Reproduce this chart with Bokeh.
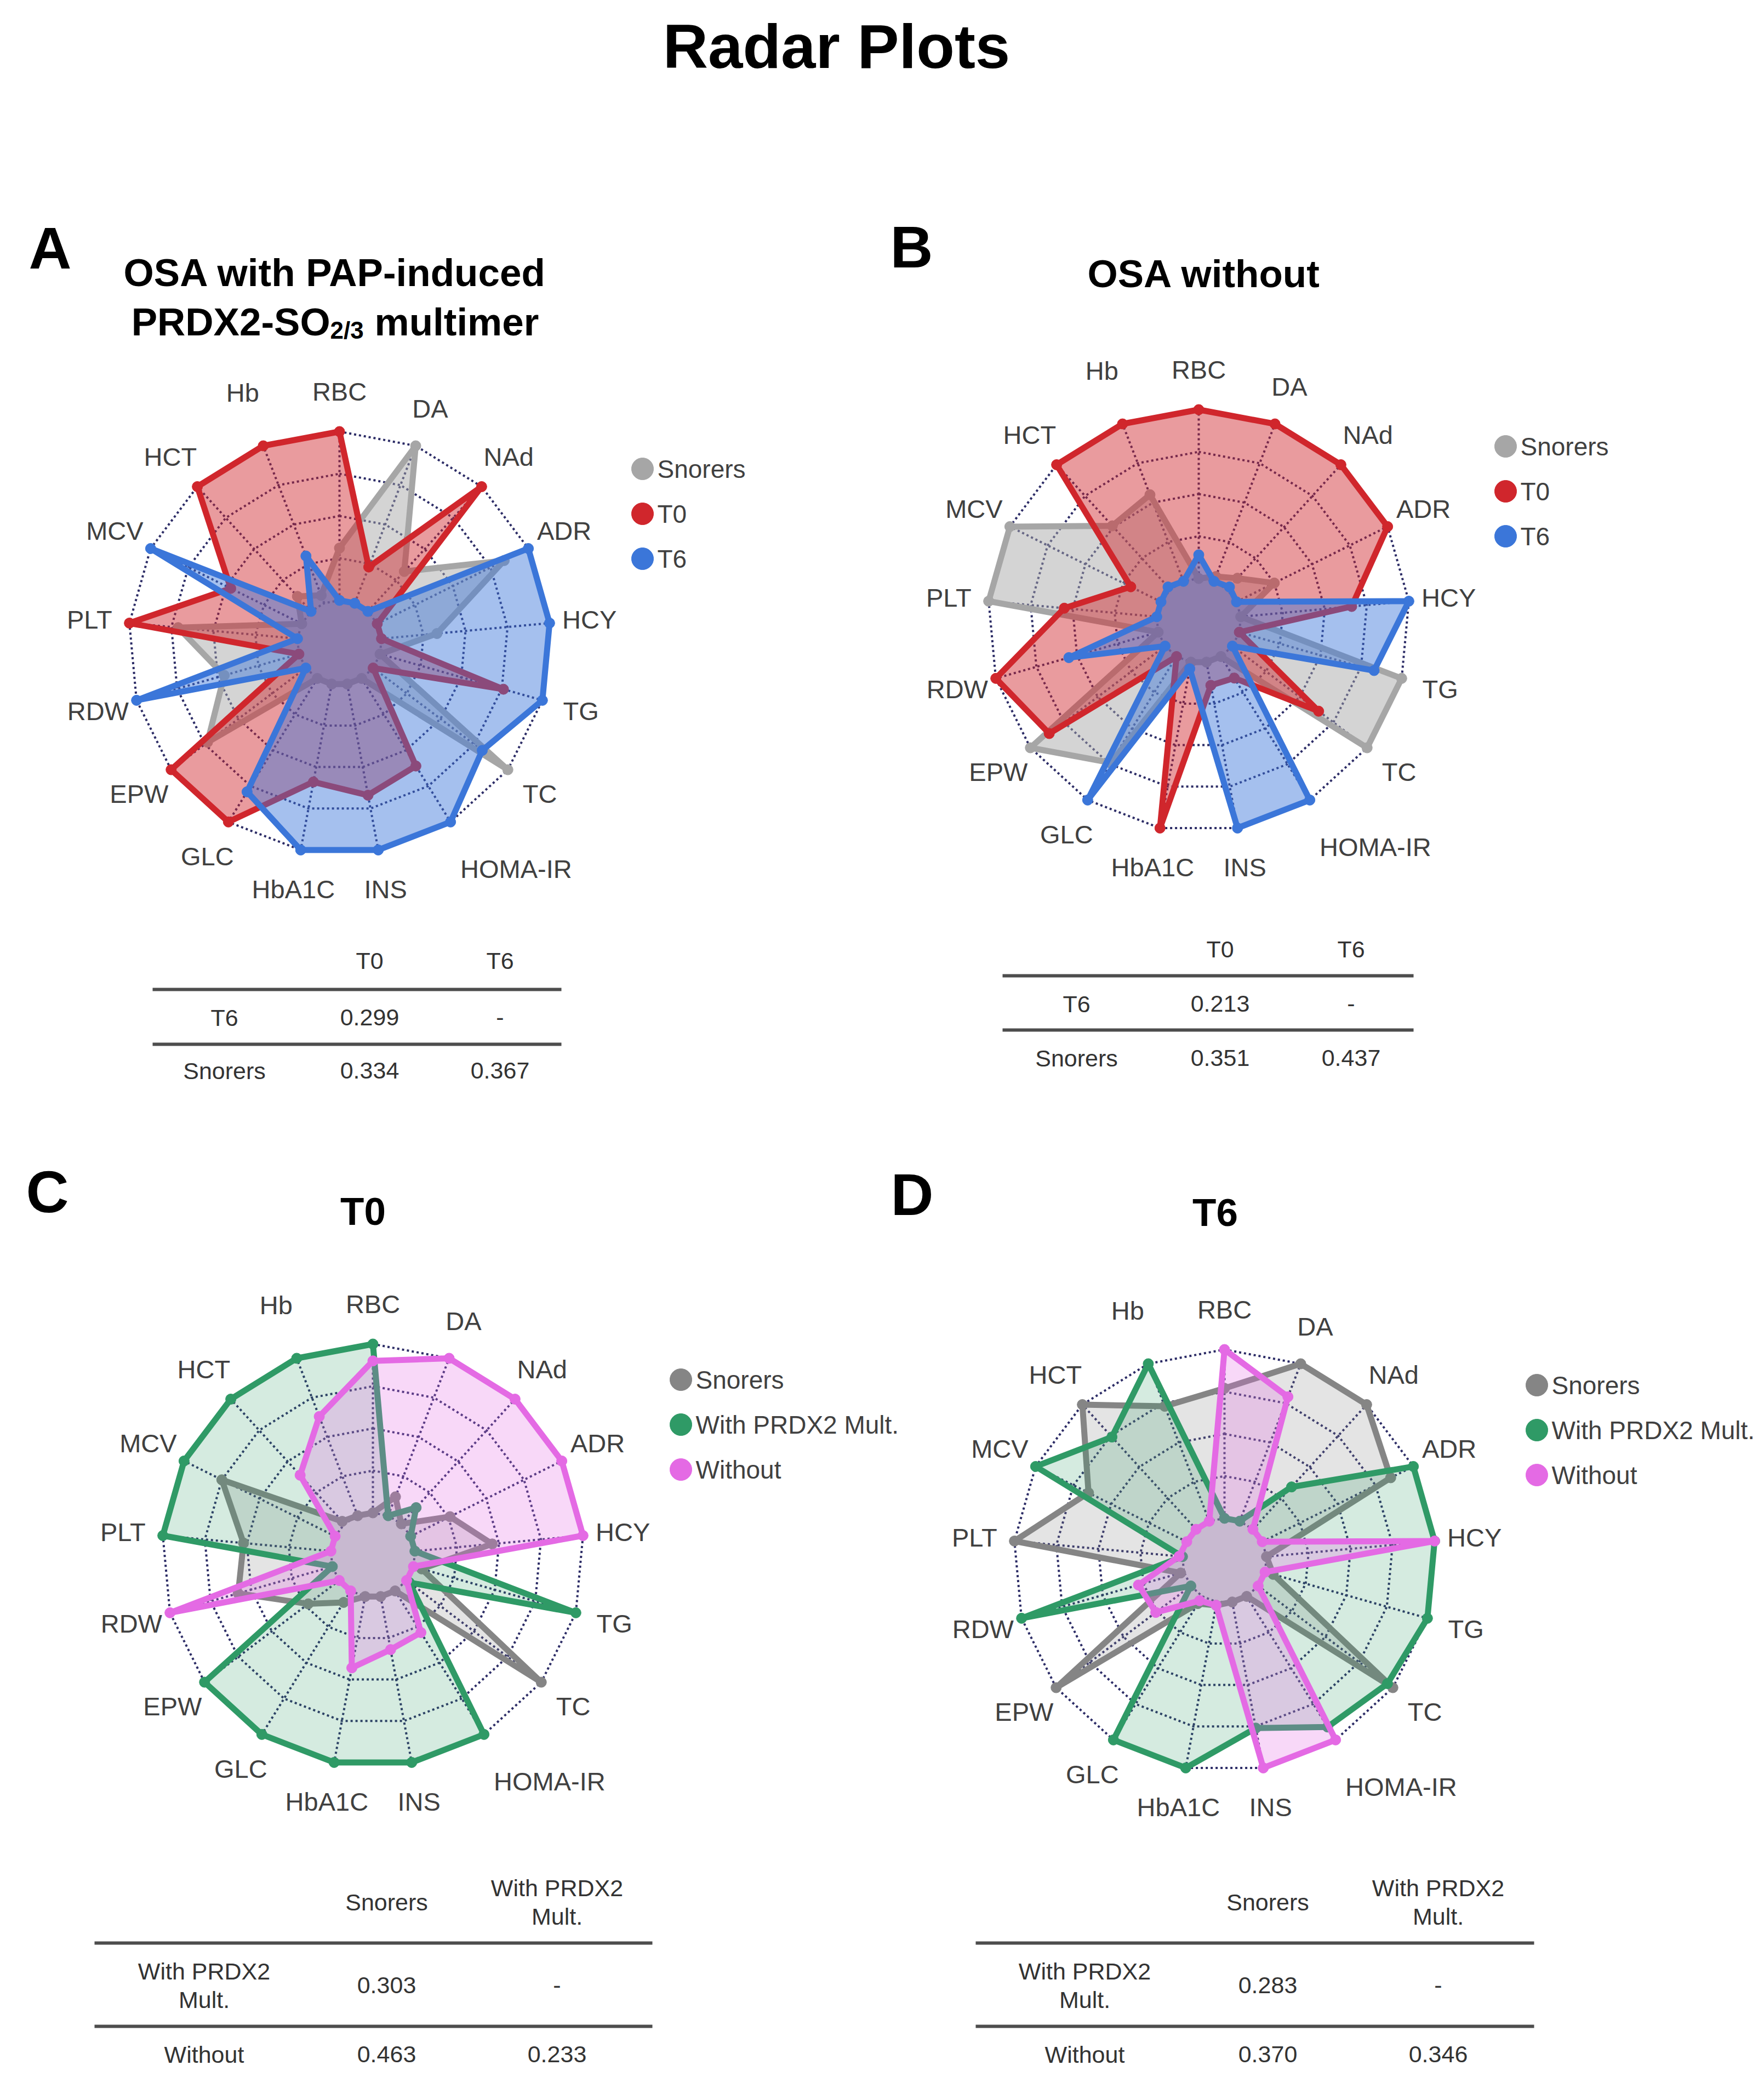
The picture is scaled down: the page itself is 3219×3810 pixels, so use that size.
import math
from bokeh.plotting import figure
from bokeh.models import Range1d
from bokeh.core.properties import value
from bokeh.embed import file_html
from bokeh.resources import INLINE

# ---------------- data ----------------
categories = ["RBC", "DA", "NAd", "ADR", "HCY", "TG", "TC", "HOMA-IR", "INS",
              "HbA1C", "GLC", "EPW", "RDW", "PLT", "MCV", "HCT", "Hb"]

# Panel A: OSA with PAP-induced PRDX2-SO2/3 multimer
a_snorers = [0.31, 1.00, 0.32, 0.84, 0.33, 0.00, 1.00, 0.00, 0.00, 0.00, 0.00, 0.73, 0.46, 0.71, 0.00, 0.12, 0.05]
a_t0      = [1.00, 0.23, 1.00, 0.00, 0.00, 0.76, 0.00, 0.61, 0.67, 0.59, 1.00, 1.00, 0.00, 1.00, 0.47, 1.00, 1.00]
a_t6      = [0.00, 0.00, 0.00, 1.00, 1.00, 1.00, 0.81, 1.00, 1.00, 1.00, 0.79, 0.00, 1.00, 0.00, 1.00, 0.00, 0.30]

# Panel B: OSA without
b_snorers = [0.00, 0.03, 0.09, 0.25, 0.00, 1.00, 1.00, 0.00, 0.00, 0.00, 0.74, 1.00, 0.00, 1.00, 1.00, 0.51, 0.55]
b_t0      = [1.00, 1.00, 1.00, 1.00, 0.66, 0.00, 0.64, 0.15, 0.14, 1.00, 0.00, 0.86, 1.00, 0.55, 0.20, 1.00, 1.00]
b_t6      = [0.14, 0.00, 0.02, 0.00, 1.00, 0.83, 0.00, 1.00, 1.00, 0.04, 1.00, 0.00, 0.55, 0.00, 0.00, 0.02, 0.00]

# Panel C: T0
c_snorers = [0.00, 0.12, 0.00, 0.26, 0.46, 0.05, 1.00, 0.00, 0.00, 0.00, 0.08, 0.23, 0.58, 0.52, 0.75, 0.02, 0.00]
c_with    = [1.00, 0.00, 0.13, 0.00, 0.00, 1.00, 0.02, 1.00, 1.00, 1.00, 1.00, 1.00, 0.00, 1.00, 1.00, 1.00, 1.00]
c_without = [0.90, 1.00, 1.00, 1.00, 1.00, 0.00, 0.00, 0.29, 0.32, 0.43, 0.00, 0.00, 1.00, 0.00, 0.00, 0.39, 0.63]

# Panel D: T6
d_snorers = [0.77, 1.00, 1.00, 0.85, 0.00, 0.05, 1.00, 0.00, 0.00, 0.02, 0.05, 1.00, 0.02, 1.00, 0.65, 1.00, 0.73]
d_with    = [0.00, 0.00, 0.34, 1.00, 1.00, 1.00, 0.96, 0.91, 0.76, 1.00, 1.00, 0.00, 1.00, 0.00, 1.00, 0.74, 1.00]
d_without = [1.00, 0.79, 0.00, 0.00, 1.00, 0.00, 0.00, 1.00, 1.00, 0.02, 0.03, 0.26, 0.28, 0.02, 0.00, 0.00, 0.00]

series_ab = ["Snorers", "T0", "T6"]
series_cd = ["Snorers", "With PRDX2 Mult.", "Without"]

# comparison tables
tab_a_cols = ["T0", "T6"]
tab_a_rows = ["T6", "Snorers"]
tab_a_vals = [["0.299", "-"], ["0.334", "0.367"]]

tab_b_cols = ["T0", "T6"]
tab_b_rows = ["T6", "Snorers"]
tab_b_vals = [["0.213", "-"], ["0.351", "0.437"]]

tab_c_cols = ["Snorers", "With PRDX2\nMult."]
tab_c_rows = ["With PRDX2\nMult.", "Without"]
tab_c_vals = [["0.303", "-"], ["0.463", "0.233"]]

tab_d_cols = ["Snorers", "With PRDX2\nMult."]
tab_d_rows = ["With PRDX2\nMult.", "Without"]
tab_d_vals = [["0.283", "-"], ["0.370", "0.346"]]

# ---------------- style ----------------
FONT = value("Liberation Sans")
GRID = "#2c2c66"
GRAY_AB, RED, BLUE = "#a6a6a6", "#d0262c", "#3b76d9"
GRAY_CD, GREEN, PINK = "#858585", "#2f9a66", "#e46ae4"
LABEL_C = "#404040"

W, H = 3203, 3794
p = figure(width=W, height=H, x_range=Range1d(8, 8 + W), y_range=Range1d(8 + H, 8),
           output_backend="svg", toolbar_location=None, min_border=0,
           x_axis_location=None, y_axis_location=None)
p.grid.visible = False
p.outline_line_color = None
p.background_fill_color = "white"
p.border_fill_color = "white"

R = 385.0
n = len(categories)
angles = [math.pi / 2 - 2 * math.pi * i / n for i in range(n)]
label_fac = {c: 1.19 for c in categories}
label_fac["Hb"] = 1.27
label_fac["HOMA-IR"] = 1.36
label_ang = {c: a for c, a in zip(categories, angles)}
label_ang["HOMA-IR"] = math.radians(-52)


def txt(x, y, s, size, color="black", bold=False, align="center", baseline="middle"):
    p.text(x=[x], y=[y], text=[s], text_font=FONT, text_font_size=value(f"{size}px"),
           text_font_style="bold" if bold else "normal", text_color=color,
           text_align=align, text_baseline=baseline)


def radar(cx, cy, series, names, colors, alphas, legend_xy):
    # grid rings (value 0 sits on the first ring, axis min -0.25)
    for k in range(1, 6):
        f = k / 5
        xs = [cx + R * f * math.cos(a) for a in angles]
        ys = [cy - R * f * math.sin(a) for a in angles]
        p.line(xs + xs[:1], ys + ys[:1], line_color=GRID, line_width=4, line_dash="4 5")
    for a in angles:
        p.line([cx + 0.2 * R * math.cos(a), cx + R * math.cos(a)],
               [cy - 0.2 * R * math.sin(a), cy - R * math.sin(a)],
               line_color=GRID, line_width=4, line_dash="4 5")
    # series
    for vals, col, al in zip(series, colors, alphas):
        rr = [R * (0.2 + 0.8 * v) for v in vals]
        xs = [cx + r * math.cos(a) for r, a in zip(rr, angles)]
        ys = [cy - r * math.sin(a) for r, a in zip(rr, angles)]
        p.patch(xs, ys, fill_color=col, fill_alpha=al, line_color=col, line_width=11,
                line_join="round")
        p.scatter(xs, ys, size=19, fill_color=col, line_color=col)
    # category labels
    for c in categories:
        a = label_ang[c]
        f = label_fac[c]
        txt(cx + R * f * math.cos(a), cy - R * f * math.sin(a), c, 47, LABEL_C)
    # legend
    lx, ly = legend_xy
    for i, (nm, col) in enumerate(zip(names, colors)):
        yy = ly + i * 82
        p.scatter([lx], [yy], size=40, fill_color=col, line_color=col)
        txt(lx + 27, yy, nm, 46, LABEL_C, align="left")


def table(col_x, cols, rows, vals, y_head, y_line1, y_row1, y_line2, y_row2, x0, x1):
    fs = 43
    col = "#333333"
    lh = 52
    for cx_, c in zip(col_x[1:], cols):
        parts = c.split("\n")
        for j, part in enumerate(parts):
            txt(cx_, y_head + (j - (len(parts) - 1) / 2) * lh, part, fs, col)
    for yl in (y_line1, y_line2):
        p.line([x0, x1], [yl, yl], line_color="#4d4d4d", line_width=6)
    for yr, rname, rv in zip((y_row1, y_row2), rows, vals):
        parts = rname.split("\n")
        for j, part in enumerate(parts):
            txt(col_x[0], yr + (j - (len(parts) - 1) / 2) * lh, part, fs, col)
        for cx_, v in zip(col_x[1:], rv):
            txt(cx_, yr, v, fs, col)


# ---------------- page title ----------------
txt(1534, 92, "Radar Plots", 114, "black", bold=True)

# ---------------- panel A ----------------
txt(99, 460, "A", 108, "black", bold=True)
txt(619, 505, "OSA with PAP-induced", 71, "black", bold=True)
BW = {"P": .667, "R": .722, "D": .722, "X": .667, "2": .556, "-": .333, "S": .667,
      "O": .778, " ": .278, "m": .889, "u": .611, "l": .278, "t": .333, "i": .278,
      "e": .556, "r": .389, "/": .278, "3": .556}
F, FS = 71, 44
w_main = sum(BW[ch] for ch in "PRDX2-SO") * F
w_sub = sum(BW[ch] for ch in "2/3") * FS
w_space = BW[" "] * F
w_tail = sum(BW[ch] for ch in "multimer") * F
left = 619 - (w_main + w_sub + w_space + w_tail) / 2
base = 595
txt(left, base, "PRDX2-SO", F, "black", bold=True, align="left", baseline="alphabetic")
txt(left + w_main, base + 15, "2/3", FS, "black", bold=True, align="left", baseline="alphabetic")
txt(left + w_main + w_sub + w_space, base, "multimer", F, "black", bold=True, align="left",
    baseline="alphabetic")
radar(627, 1180, [a_snorers, a_t0, a_t6], series_ab, [GRAY_AB, RED, BLUE],
      [0.48, 0.46, 0.46], (1180, 863))
table([417, 682, 920], tab_a_cols, tab_a_rows, tab_a_vals,
      1760, 1813, 1864, 1913, 1961, 286, 1032)

# ---------------- panel B ----------------
txt(1671, 458, "B", 108, "black", bold=True)
txt(2205, 507, "OSA without", 71, "black", bold=True)
radar(2195, 1140, [b_snorers, b_t0, b_t6], series_ab, [GRAY_AB, RED, BLUE],
      [0.48, 0.46, 0.46], (2755, 822))
table([1972, 2234, 2473], tab_b_cols, tab_b_rows, tab_b_vals,
      1739, 1788, 1839, 1887, 1938, 1837, 2587)

# ---------------- panel C ----------------
txt(94, 2182, "C", 108, "black", bold=True)
txt(670, 2218, "T0", 71, "black", bold=True)
radar(688, 2845, [c_snorers, c_with, c_without], series_cd, [GRAY_CD, GREEN, PINK],
      [0.22, 0.2, 0.26], (1250, 2525))
table([380, 713, 1024], tab_c_cols, tab_c_rows, tab_c_vals,
      3478, 3553, 3630, 3705, 3756, 180, 1198)

# ---------------- panel D ----------------
txt(1672, 2187, "D", 108, "black", bold=True)
txt(2225, 2220, "T6", 71, "black", bold=True)
radar(2242, 2855, [d_snorers, d_with, d_without], series_cd, [GRAY_CD, GREEN, PINK],
      [0.22, 0.2, 0.26], (2812, 2535))
table([1987, 2321, 2632], tab_d_cols, tab_d_rows, tab_d_vals,
      3478, 3553, 3630, 3705, 3756, 1788, 2807)

open("out.html", "w").write(file_html(p, INLINE))
